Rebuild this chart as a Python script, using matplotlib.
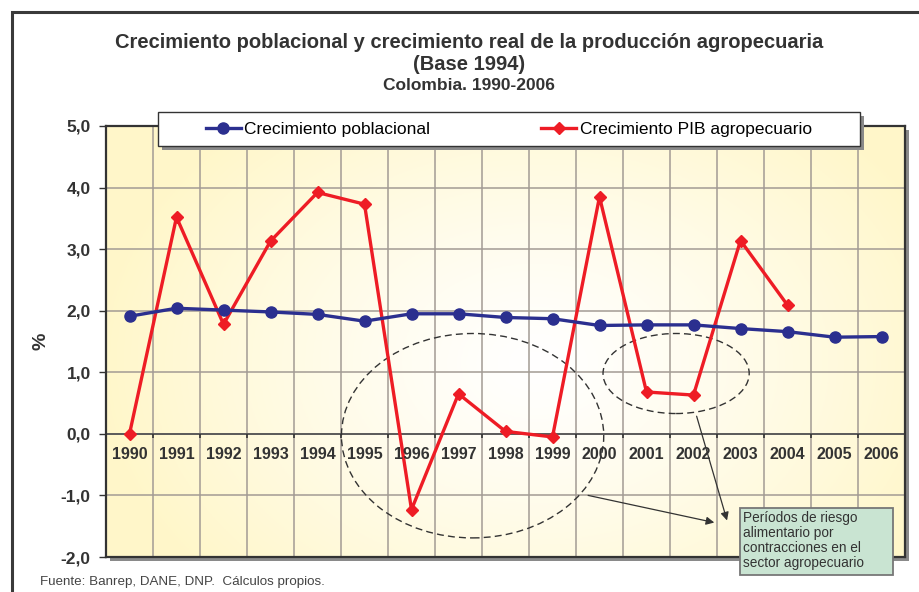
import matplotlib.pyplot as plt
import numpy as np
from matplotlib.patches import Ellipse, Rectangle

plt.rcParams['font.family'] = ['Liberation Sans', 'DejaVu Sans']

years = ['1990', '1991', '1992', '1993', '1994', '1995', '1996', '1997', '1998',
         '1999', '2000', '2001', '2002', '2003', '2004', '2005', '2006']
pobl = [1.91, 2.04, 2.01, 1.98, 1.94, 1.83, 1.95, 1.95, 1.89, 1.87, 1.76, 1.77,
        1.77, 1.71, 1.66, 1.57, 1.58]
pib = [0.00, 3.52, 1.78, 3.13, 3.92, 3.73, -1.23, 0.65, 0.04, -0.05, 3.85, 0.68,
       0.63, 3.14, 2.09]
yticks = [-2, -1, 0, 1, 2, 3, 4, 5]

BLUE = '#2B2F8F'
RED = '#EE1C25'
DARK = '#333333'

fig = plt.figure(figsize=(9.19, 5.92), dpi=100)
W, H = 919, 592

# outer frame
fig.patches.append(Rectangle((12 / W, -0.01), 1.0, (592 - 12) / H + 0.01,
                             transform=fig.transFigure, fill=False,
                             edgecolor='#3a3a3a', linewidth=2.2, zorder=-2))

left, right, top, bottom = 106, 905, 126, 557
ax = fig.add_axes([left / W, (H - bottom) / H, (right - left) / W, (bottom - top) / H])
ax.set_zorder(1)

# shadow of the plot area
fig.patches.append(Rectangle(((left + 4) / W, (H - bottom - 4) / H),
                             (right - left) / W, (bottom - top) / H,
                             transform=fig.transFigure, facecolor='#8a8a8a',
                             edgecolor='none', zorder=-1))

x = np.arange(len(years))
ax.set_xlim(-0.5, len(years) - 0.5)
ax.set_ylim(-2, 5)

# background: yellow with a white glow near the centre
gx, gy = np.meshgrid(np.linspace(0, 1, 300), np.linspace(0, 1, 200))
d = np.sqrt(((gx - 0.54) / 0.55) ** 2 + ((gy - 0.45) / 0.75) ** 2)
t = np.clip(d, 0, 1) ** 1.2
yellow = np.array([1.0, 0.968, 0.79])
white = np.array([1.0, 1.0, 1.0])
img = white[None, None, :] * (1 - t[..., None]) + yellow[None, None, :] * t[..., None]
ax.imshow(img, extent=(0, 1, 0, 1), transform=ax.transAxes, aspect='auto',
          origin='lower', zorder=0)

# grid
for b in np.arange(0.5, len(years) - 1, 1.0):
    ax.axvline(b, color='#a39b94', linewidth=1.1, zorder=1)
for yv in yticks[1:-1]:
    ax.axhline(yv, color='#a39b94', linewidth=1.1, zorder=1)
ax.axhline(0, color='#555555', linewidth=1.3, zorder=1.5)
ax.vlines(np.arange(0.5, len(years) - 1, 1.0), -0.07, 0, color='#333333',
          linewidth=1.2, zorder=1.5)

ax.plot(x, pobl, color=BLUE, linewidth=2.4, marker='o', markersize=8,
        label='Crecimiento poblacional', zorder=4)
ax.plot(x[:len(pib)], pib, color=RED, linewidth=2.4, marker='D', markersize=6,
        label='Crecimiento PIB agropecuario', zorder=3)

for i, yr in enumerate(years):
    ax.text(i, -0.33, yr, ha='center', va='center', fontsize=11.5,
            fontweight='bold', color='#333333', zorder=5)

ax.set_xticks([])
ax.set_yticks(yticks)
ax.set_yticklabels([f'{v:.1f}'.replace('.', ',') for v in yticks],
                   fontsize=12.5, fontweight='bold', color='#333333')
ax.tick_params(axis='y', length=5, width=1, color='#333333', pad=6)
for s in ax.spines.values():
    s.set_color(DARK)
    s.set_linewidth(1.6)
    s.set_zorder(6)

ax.set_ylabel('%', fontsize=14, fontweight='bold', color='#333333')
ax.yaxis.set_label_coords(-0.071, 0.5)

# dashed ellipses
ax.add_patch(Ellipse((7.3, -0.03), 5.58, 3.32, fill=False, linestyle=(0, (5, 3)),
                     edgecolor='#333333', linewidth=1, zorder=2))
ax.add_patch(Ellipse((11.63, 0.98), 3.11, 1.30, fill=False, linestyle=(0, (5, 3)),
                     edgecolor='#333333', linewidth=1, zorder=2))

# arrows to the note
ax.annotate('', xy=(12.5, -1.45), xytext=(9.7, -0.99),
            arrowprops=dict(arrowstyle='-|>', color='#333333', lw=0.9,
                            mutation_scale=12))
ax.annotate('', xy=(12.73, -1.45), xytext=(12.05, 0.33),
            arrowprops=dict(arrowstyle='-|>', color='#333333', lw=0.9,
                            mutation_scale=12))

# note box
fig.patches.append(Rectangle((740 / W, 1 - 575 / H), 153 / W, 67 / H,
                             transform=fig.transFigure, facecolor='#C9E4D2',
                             edgecolor='#777777', linewidth=1.3, zorder=9))
fig.text(743 / W, 1 - 511 / H,
         'Períodos de riesgo\nalimentario por\ncontracciones en el\nsector agropecuario',
         fontsize=9.8, color='#333333', ha='left', va='top', linespacing=1.1,
         zorder=10)

# legend box with its shadow, drawn by hand
fig.patches.append(Rectangle((162 / W, 1 - 150 / H), 702 / W, 34 / H,
                             transform=fig.transFigure, facecolor='#8a8a8a',
                             edgecolor='none', zorder=7))
fig.patches.append(Rectangle((158 / W, 1 - 146 / H), 702 / W, 34 / H,
                             transform=fig.transFigure, facecolor='white',
                             edgecolor='#333333', linewidth=1.0, zorder=8))
handles, labels = ax.get_legend_handles_labels()
leg = fig.legend(handles, labels, loc='center left',
                 bbox_to_anchor=(206 / W, 1 - 129 / H), ncol=2, fontsize=12.5,
                 frameon=False, handlelength=2.0, handletextpad=0.2,
                 columnspacing=6.4, borderaxespad=0, borderpad=0)
leg.set_zorder(10)

fig.text(0.51, 1 - 42 / H,
         'Crecimiento poblacional y crecimiento real de la producción agropecuaria',
         ha='center', va='center', fontsize=14.5, fontweight='bold', color='#333333')
fig.text(0.51, 1 - 64 / H, '(Base 1994)', ha='center', va='center',
         fontsize=14.5, fontweight='bold', color='#333333')
fig.text(0.51, 1 - 86 / H, 'Colombia. 1990-2006', ha='center', va='center',
         fontsize=12.5, fontweight='bold', color='#333333')

fig.text(40 / W, 1 - 582 / H, 'Fuente: Banrep, DANE, DNP.  Cálculos propios.',
         ha='left', va='center', fontsize=9.6, color='#444444')

fig.savefig('out.png', dpi=100)
